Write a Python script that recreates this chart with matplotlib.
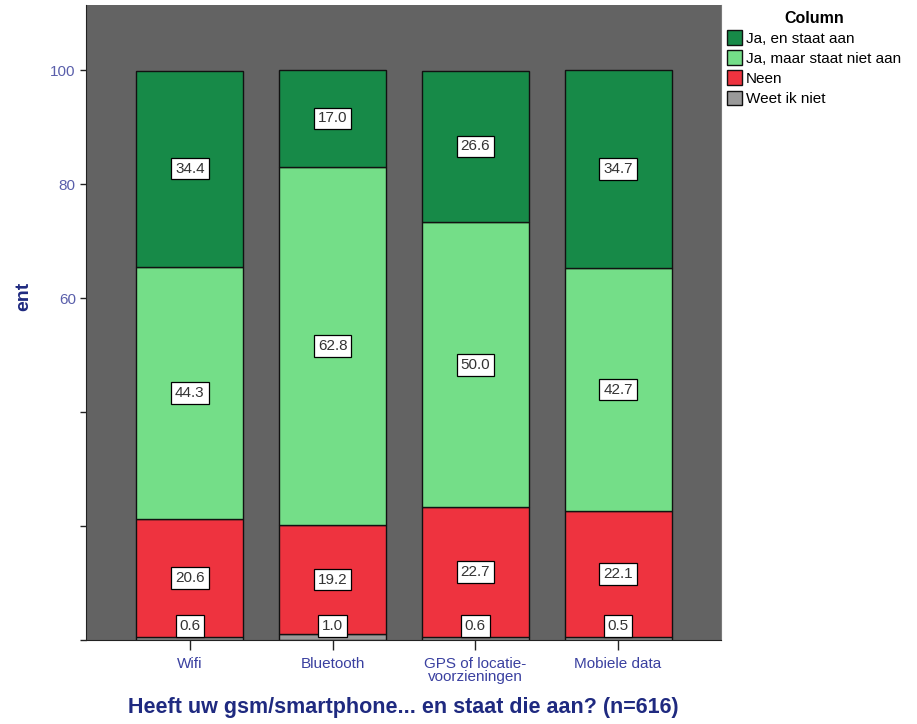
import numpy as np
import matplotlib
matplotlib.use("Agg")
import matplotlib.pyplot as plt

plt.rcParams['font.family'] = ['Liberation Sans', 'DejaVu Sans']

categories = ['Wifi', 'Bluetooth', 'GPS of locatie-\nvoorzieningen', 'Mobiele data']
weet_ik_niet = [0.6, 1.0, 0.6, 0.5]
neen = [20.6, 19.2, 22.7, 22.1]
ja_niet_aan = [44.3, 62.8, 50.0, 42.7]
ja_aan = [34.4, 17.0, 26.6, 34.7]

series = [
    ('Weet ik niet', weet_ik_niet, '#9a9a9a'),
    ('Neen', neen, '#ee333f'),
    ('Ja, maar staat niet aan', ja_niet_aan, '#74de88'),
    ('Ja, en staat aan', ja_aan, '#178a48'),
]

fig = plt.figure(figsize=(9.17, 7.24), dpi=100)
ax = fig.add_axes([0.094, 0.116, 0.692, 0.877])
ax.set_facecolor('#636363')

x = np.arange(len(categories))
bottom = np.zeros(len(categories))
handles = {}
for name, vals, col in series:
    vals = np.array(vals)
    b = ax.bar(x, vals, 0.75, bottom=bottom, color=col, edgecolor='#111111', linewidth=1, label=name)
    handles[name] = b
    # value labels in white boxes, small ones pushed up a bit
    for xi, v, bt in zip(x, vals, bottom):
        ypos = max(bt + v / 2, 2.5)
        ax.text(xi, ypos, f'{v:.1f}', ha='center', va='center', fontsize=11, color='#333333',
                bbox=dict(boxstyle='square,pad=0.25', facecolor='white', edgecolor='black', linewidth=0.9))
    bottom = bottom + vals

ax.set_xlim(-0.727, 3.72)
ax.set_ylim(0, 111.4)

ax.set_yticks([0, 20, 40, 60, 80, 100])
ax.set_yticklabels(['', '', '', '60', '80', '100'])
ax.tick_params(axis='y', length=4, width=1, color='#222222', labelcolor='#5a5fab', labelsize=11)
ax.set_xticks(x)
ax.set_xticklabels(categories)
ax.tick_params(axis='x', length=7, width=1, color='#222222', labelcolor='#3a40a0', labelsize=11, pad=5)
for lbl in ax.get_xticklabels():
    lbl.set_linespacing(0.95)

ax.spines['top'].set_visible(False)
ax.spines['right'].set_color('#7a7a7a')
ax.spines['left'].set_color('#222222')
ax.spines['bottom'].set_color('#222222')

ax.set_xlabel('Heeft uw gsm/smartphone... en staat die aan? (n=616)', fontsize=15.5,
              fontweight='bold', color='#1f2a80', labelpad=9)
fig.text(0.026, 0.59, 'ent', rotation=90, ha='center', va='center', fontsize=14,
         fontweight='bold', color='#1f2a80')

order = ['Ja, en staat aan', 'Ja, maar staat niet aan', 'Neen', 'Weet ik niet']
leg = fig.legend([handles[n] for n in order], order, loc='upper left', bbox_to_anchor=(0.783, 0.998),
                 frameon=False, title='Column', fontsize=11, handlelength=1.0, handleheight=1.1,
                 handletextpad=0.2, labelspacing=0.3, borderaxespad=0.2)
leg.get_title().set_fontweight('bold')
leg.get_title().set_fontsize(11.5)

fig.savefig('out.png', dpi=100)
